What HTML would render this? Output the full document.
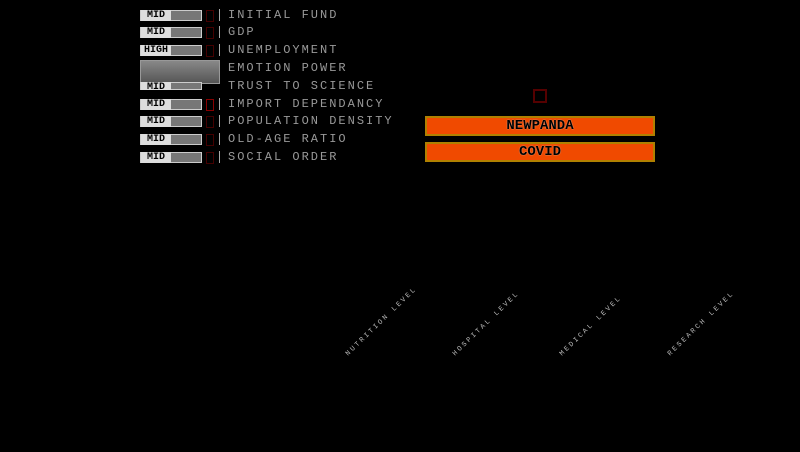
<!DOCTYPE html>
<html><head><style>
body{margin:0;width:800px;height:452px;background:#000;overflow:hidden;position:relative;font-family:"Liberation Mono",monospace}
.b{position:absolute;left:140px;width:62px;height:11px;background:#777;border:1px solid #ccc;box-sizing:border-box}
.b span{position:absolute;left:0;top:-1px;height:11px;width:30px;background:#ddd;color:#000;font-size:10px;font-weight:bold;line-height:11px;text-align:center}
.m{position:absolute;left:206px;width:6px;height:10px;border:1px solid #400}
.l{position:absolute;left:219px;width:1px;height:12px;background:#aaa}
.t{position:absolute;left:228px;color:#999;font-size:12px;letter-spacing:2px;line-height:12px}
.o{position:absolute;left:425px;width:230px;height:20px;background:#f04a00;border:2px solid #b08000;box-sizing:border-box;text-align:center;font-weight:bold;font-size:14px;line-height:16px;color:#000;text-shadow:0 0 1px #ddd}
.d{position:absolute;color:#bbb;font-size:7px;letter-spacing:2.2px;white-space:nowrap;transform:rotate(-44deg);transform-origin:left bottom}
</style></head><body>
<div class="b" style="top:10px"><span>MID</span></div><div class="m" style="top:10px"></div><div class="l" style="top:9px"></div><div class="t" style="top:9px">INITIAL FUND</div>
<div class="b" style="top:27px"><span>MID</span></div><div class="m" style="top:27px"></div><div class="l" style="top:26px"></div><div class="t" style="top:26px">GDP</div>
<div class="b" style="top:45px"><span>HIGH</span></div><div class="m" style="top:45px"></div><div class="l" style="top:44px"></div><div class="t" style="top:44px">UNEMPLOYMENT</div>
<div style="position:absolute;left:140px;top:60px;width:80px;height:24px;background:linear-gradient(#888,#555);border:1px solid #999;box-sizing:border-box"></div>
<div class="t" style="top:62px">EMOTION POWER</div>
<div class="b" style="top:82px;height:8px"><span style="height:8px">MID</span></div><div class="t" style="top:80px">TRUST TO SCIENCE</div>
<div class="b" style="top:99px"><span>MID</span></div><div class="m" style="top:99px;border-color:#800"></div><div class="l" style="top:98px"></div><div class="t" style="top:98px">IMPORT DEPENDANCY</div>
<div class="b" style="top:116px"><span>MID</span></div><div class="m" style="top:116px"></div><div class="l" style="top:115px"></div><div class="t" style="top:115px">POPULATION DENSITY</div>
<div class="b" style="top:134px"><span>MID</span></div><div class="m" style="top:134px"></div><div class="l" style="top:133px"></div><div class="t" style="top:133px">OLD-AGE RATIO</div>
<div class="b" style="top:152px"><span>MID</span></div><div class="m" style="top:152px"></div><div class="l" style="top:151px"></div><div class="t" style="top:151px">SOCIAL ORDER</div>
<div style="position:absolute;left:533px;top:89px;width:14px;height:14px;border:2px solid #500;box-sizing:border-box"></div>
<div class="o" style="top:116px">NEWPANDA</div>
<div class="o" style="top:142px">COVID</div>
<div class="d" style="left:350px;top:350px">NUTRITION LEVEL</div>
<div class="d" style="left:457px;top:350px">HOSPITAL LEVEL</div>
<div class="d" style="left:564px;top:350px">MEDICAL LEVEL</div>
<div class="d" style="left:672px;top:350px">RESEARCH LEVEL</div>
</body></html>
